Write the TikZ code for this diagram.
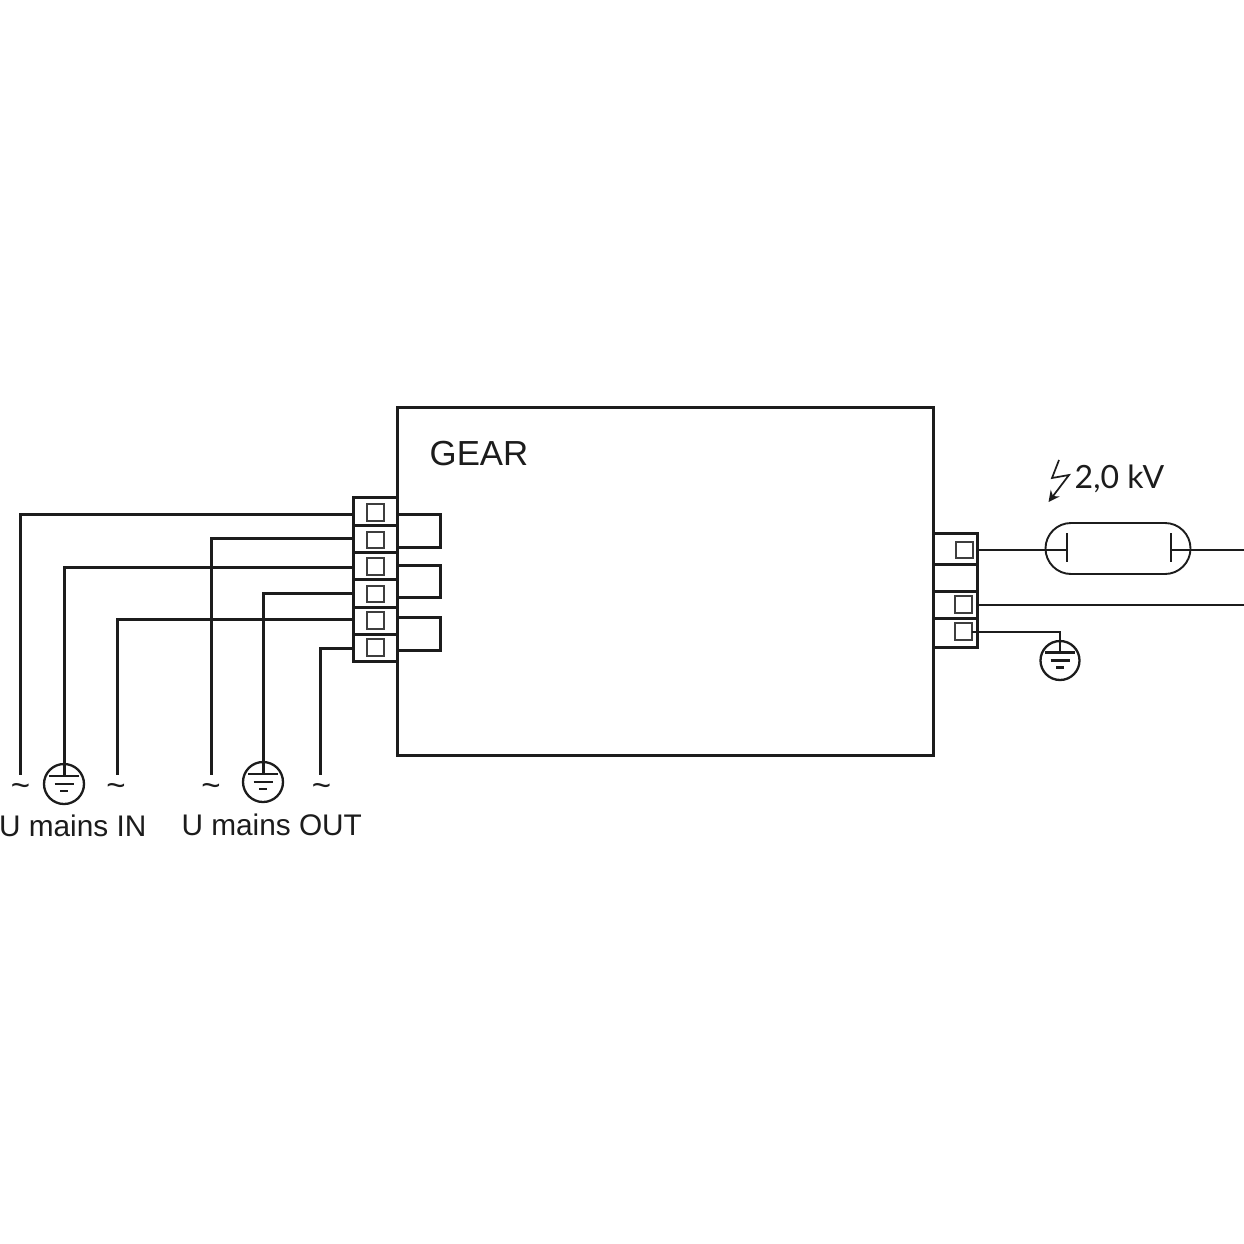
\documentclass[tikz,border=0pt]{standalone}
\usepackage{fontspec}
\setmainfont{Liberation Sans}
\newfontfamily\humfont{Lato}
\usetikzlibrary{arrows.meta}
\definecolor{ink}{HTML}{1C1C1C}
\tikzset{
  x=1pt,y=-1pt,
  every path/.style={color=ink},
  heavy/.style={line width=3pt,draw=ink},
  medium/.style={line width=3pt,draw=ink},
  thin wire/.style={line width=2pt,draw=ink},
  cell/.style={rectangle,draw=ink,line width=3pt,minimum width=44pt,inner sep=0pt,outer sep=0pt},
  pin/.style={rectangle,draw=ink!85,line width=1.9pt,minimum width=16.5pt,minimum height=16.5pt,inner sep=0pt,outer sep=0pt},
  gnd/.style={circle,draw=ink,line width=2.3pt,minimum size=#1,inner sep=0pt,outer sep=0pt},
  lbl/.style={font=\fontsize{29.8}{30}\selectfont,text=ink,inner sep=0pt,outer sep=0pt,anchor=base west},
  tld/.style={font=\fontsize{33}{33}\selectfont,text=ink,inner sep=0pt,outer sep=0pt},
}
\newcommand{\gndbars}[3]{%
  \draw[line width=2.8pt] (#1-15,#2-8) -- (#1+15,#2-8);
  \draw[line width=2.8pt] (#1-9.5,#2) -- (#1+9.5,#2);
  \draw[line width=2.8pt] (#1-4,#2+7) -- (#1+4,#2+7);
  \coordinate (#3) at (#1,#2-8);
}
\begin{document}
\begin{tikzpicture}
\useasboundingbox (0,0) rectangle (1244,1244);
\fill[white] (0,0) rectangle (1244,1244);
% gear box
\node[rectangle,draw=ink,line width=3pt,minimum width=536pt,minimum height=348pt,inner sep=0pt,outer sep=0pt] (gear) at (665,581) {};
\node[font=\fontsize{34.8}{35}\selectfont,text=ink,inner sep=0pt,anchor=base west] (geartxt) at (429.5,465) {GEAR};
% left terminal block
\node[cell,minimum height=28pt] (L1) at (375,511) {};
\node[cell,minimum height=27pt] (L2) at (375,538.5) {};
\node[cell,minimum height=27pt] (L3) at (375,565.5) {};
\node[cell,minimum height=28pt] (L4) at (375,593) {};
\node[cell,minimum height=27pt] (L5) at (375,620.5) {};
\node[cell,minimum height=27pt] (L6) at (375,647.5) {};
\foreach \n/\y in {1/512.5,2/540,3/566.5,4/594,5/620.5,6/647.5}{\node[pin] (LP\n) at (375.5,\y) {};}
% bridges
\coordinate (B1a) at (397,514.5); \coordinate (B1b) at (440,547);
\coordinate (B2a) at (397,565); \coordinate (B2b) at (440,597);
\coordinate (B3a) at (397,617.5); \coordinate (B3b) at (440,650);
\draw[heavy] (B1a) -| (B1b) -- (B1b -| B1a);
\draw[heavy] (B2a) -| (B2b) -- (B2b -| B2a);
\draw[heavy] (B3a) -| (B3b) -- (B3b -| B3a);
% grounds
\node[gnd=40pt] (G1) at (64,784) {};
\gndbars{64}{784}{G1top}
\node[gnd=40pt] (G2) at (263,782) {};
\gndbars{263}{782}{G2top}
% tildes
\node[tld] (T1) at (20.5,790) {\textasciitilde};
\node[tld] (T2) at (116,790) {\textasciitilde};
\node[tld] (T3) at (211,790) {\textasciitilde};
\node[tld] (T4) at (321.5,790) {\textasciitilde};
\coordinate (E1) at (20.5,775);
\coordinate (E2) at (117.5,775);
\coordinate (E3) at (211,775);
\coordinate (E4) at (320.5,775);
% left wires
\coordinate (W1) at (353,514);
\coordinate (W2) at (353,538.5);
\coordinate (W3) at (353,567);
\coordinate (W4) at (353,593.5);
\coordinate (W5) at (353,619.5);
\coordinate (W6) at (353,648);
\draw[heavy] (W1) -| (E1);
\draw[medium] (W2) -| (E3);
\draw[heavy] (W3) -| (G1top);
\draw[medium] (W4) -| (G2top);
\draw[heavy] (W5) -| (E2);
\draw[medium] (W6) -| (E4);
% labels
\node[lbl] (inlbl) at (-1,836) {U mains IN};
\node[lbl] (outlbl) at (181.5,835) {U mains OUT};
% right terminal block
\node[cell,minimum height=31pt] (R1) at (955,548.5) {};
\node[cell,minimum height=27pt] (R2) at (955,577.5) {};
\node[cell,minimum height=27pt] (R3) at (955,604.5) {};
\node[cell,minimum height=29pt] (R4) at (955,632.5) {};
\node[pin] (RP1) at (964.5,550) {};
\node[pin] (RP3) at (963.5,604.5) {};
\node[pin] (RP4) at (963.5,631.5) {};
% lamp
\node[rectangle,rounded corners=25.5pt,draw=ink,line width=1.9pt,minimum width=145pt,minimum height=51pt,inner sep=0pt,outer sep=0pt] (lamp) at (1118,548.5) {};
\coordinate (EL) at (1067,550);
\coordinate (ER) at (1171,550);
\coordinate (RedgeA) at (1244,550);
\coordinate (RedgeB) at (1244,605);
\draw[thin wire] (1067,533) -- (1067,562);
\draw[thin wire] (1171,533) -- (1171,562);
\draw[thin wire] (R1.east |- EL) -- (EL);
\draw[thin wire] (ER) -- (RedgeA);
\draw[thin wire] (R3.east |- RedgeB) -- (RedgeB);
% right ground
\node[gnd=39pt] (G3) at (1060,660.5) {};
\gndbars{1060}{660.5}{G3top}
\coordinate (R4w) at (972,631.5);
\draw[thin wire] (R4w) -| (G3top);
% HV label
\node[font=\fontsize{32}{32}\selectfont\humfont,text=ink,inner sep=0pt,anchor=base west] (kv) at (1074.5,488) {2,0 kV};
\coordinate (bolt1) at (1059,460);
\coordinate (bolt2) at (1052,478);
\coordinate (bolt3) at (1069,475);
\coordinate (bolt4) at (1048.5,502);
\draw[line width=1.7pt,-{Stealth[length=11pt,width=11pt]}] (bolt1) -- (bolt2) -- (bolt3) -- (bolt4);
\end{tikzpicture}
\end{document}
